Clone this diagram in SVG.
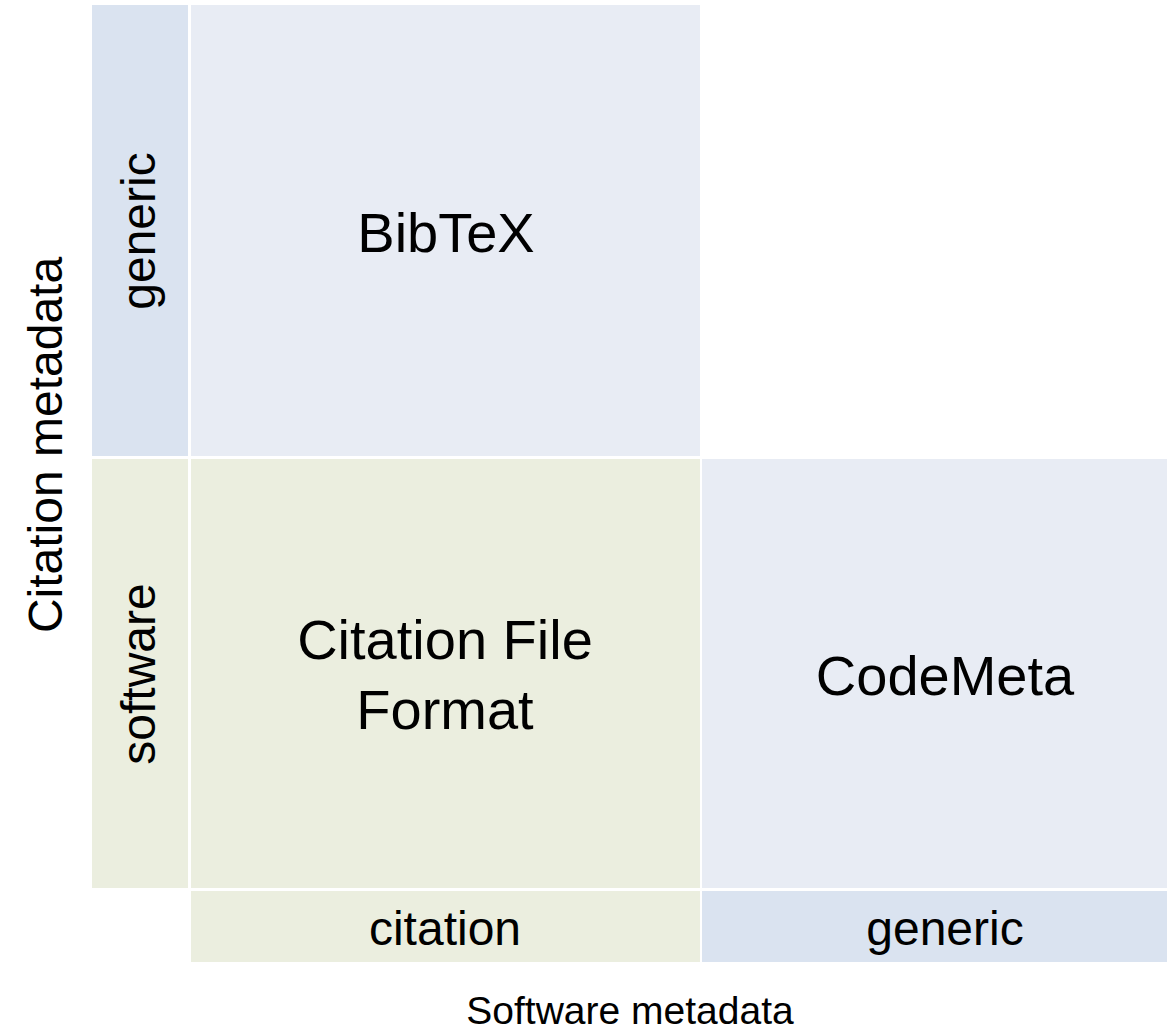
<svg xmlns="http://www.w3.org/2000/svg" width="1167" height="1034" viewBox="0 0 1167 1034">
<style>
text{font-family:"Liberation Sans",Arial,sans-serif;fill:#000;text-anchor:middle}
.lab{fill:#DAE3F0}
.cell{fill:#E8ECF4}
.grn{fill:#EBEEDF}
.big{font-size:56px}
.mid{font-size:48px}
.ax{font-size:39px}
</style>
<rect width="1167" height="1034" fill="#fff"/>
<g id="label-generic-row">
<rect class="lab" x="92" y="5" width="96" height="451"/>
<text class="mid" transform="translate(155,231) rotate(-90)">generic</text>
</g>
<g id="label-software-row">
<rect class="grn" x="92" y="459" width="96" height="429"/>
<text class="mid" transform="translate(155,674) rotate(-90)">software</text>
</g>
<g id="bibtex">
<rect class="cell" x="191" y="5" width="509" height="451"/>
<text class="big" x="446" y="252">BibTeX</text>
</g>
<g id="cff">
<rect class="grn" x="191" y="459" width="509" height="429"/>
<text class="big" x="445" y="659">Citation File</text>
<text class="big" x="445" y="729">Format</text>
</g>
<g id="codemeta">
<rect class="cell" x="702" y="459" width="486" height="429"/>
<text class="big" x="945" y="695">CodeMeta</text>
</g>
<g id="label-citation-col">
<rect class="grn" x="191" y="891" width="509" height="71"/>
<text class="mid" x="445" y="945">citation</text>
</g>
<g id="label-generic-col">
<rect class="lab" x="702" y="891" width="486" height="71"/>
<text class="mid" x="945" y="945">generic</text>
</g>
<g id="axis-y">
<text class="mid" transform="translate(62,445) rotate(-90)">Citation metadata</text>
</g>
<g id="axis-x">
<text class="ax" x="630" y="1024">Software metadata</text>
</g>
<g id="connectors"></g>
</svg>
